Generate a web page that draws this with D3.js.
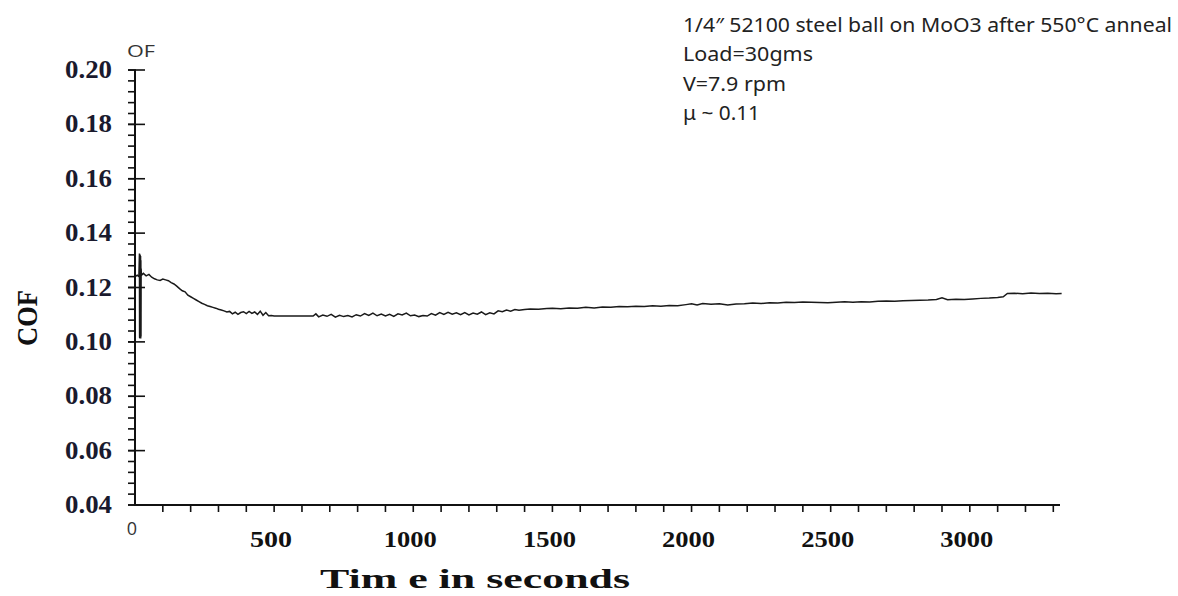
<!DOCTYPE html>
<html><head><meta charset="utf-8">
<script src="https://cdn.jsdelivr.net/npm/d3@7"></script>
<style>body{margin:0;background:#fff}svg{display:block}</style>
</head><body>
<script>
const timeSec = [0,8,14,16,16.5,17,17.5,18,18.5,19,19.5,20,20.5,21,21.5,22,23,30,40,50,60,70,80,90,100,110,120,130,140,150,160,170,180,190,200,210,220,230,240,250,260,270,280,290,300,310,320,330,340,350,360,370,380,390,400,410,420,430,440,450,460,470,480,490,500,560,620,640,650,660,675,690,705,720,735,750,765,780,795,810,825,840,855,870,885,900,915,930,945,960,975,990,1005,1020,1035,1050,1065,1080,1095,1110,1125,1140,1155,1170,1185,1200,1215,1230,1245,1260,1275,1290,1305,1320,1335,1350,1365,1380,1400,1420,1450,1480,1500,1530,1560,1590,1620,1650,1680,1710,1740,1770,1800,1830,1860,1890,1920,1950,1980,2000,2020,2040,2070,2100,2130,2160,2190,2220,2250,2280,2310,2340,2370,2400,2430,2460,2490,2520,2550,2580,2610,2640,2670,2700,2730,2760,2790,2820,2850,2880,2900,2920,2950,2980,3010,3040,3070,3100,3120,3135,3160,3190,3220,3250,3280,3310,3330];
const cofValues = [0.1240,0.1245,0.1240,0.1325,0.1015,0.1322,0.1013,0.1320,0.1012,0.1318,0.1014,0.1316,0.1012,0.1300,0.1020,0.1270,0.1245,0.1252,0.1243,0.1248,0.1238,0.1232,0.1228,0.1226,0.1231,0.1228,0.1225,0.1218,0.1213,0.1205,0.1196,0.1188,0.1184,0.1172,0.1166,0.1160,0.1154,0.1148,0.1142,0.1138,0.1133,0.1130,0.1127,0.1124,0.1120,0.1117,0.1114,0.1110,0.1112,0.1103,0.1109,0.1101,0.1108,0.1111,0.1104,0.1112,0.1105,0.1110,0.1101,0.1113,0.1098,0.1108,0.1096,0.1097,0.1095,0.1095,0.1095,0.1095,0.1103,0.1092,0.1099,0.1094,0.1101,0.1091,0.1098,0.1093,0.1097,0.1092,0.1100,0.1095,0.1104,0.1097,0.1106,0.1096,0.1102,0.1095,0.1101,0.1094,0.1103,0.1099,0.1106,0.1096,0.1099,0.1093,0.1097,0.1095,0.1104,0.1098,0.1108,0.1101,0.1109,0.1102,0.1107,0.1100,0.1108,0.1099,0.1106,0.1102,0.1110,0.1100,0.1107,0.1103,0.1114,0.1111,0.1117,0.1113,0.1119,0.1116,0.1119,0.1121,0.1120,0.1123,0.1124,0.1122,0.1125,0.1124,0.1127,0.1125,0.1128,0.1127,0.1130,0.1129,0.1131,0.1130,0.1133,0.1131,0.1134,0.1133,0.1137,0.1140,0.1136,0.1141,0.1138,0.1140,0.1136,0.1139,0.1140,0.1143,0.1141,0.1144,0.1143,0.1146,0.1145,0.1147,0.1146,0.1145,0.1144,0.1146,0.1148,0.1146,0.1148,0.1147,0.1149,0.1150,0.1149,0.1151,0.1152,0.1153,0.1154,0.1156,0.1162,0.1155,0.1157,0.1156,0.1158,0.1160,0.1161,0.1163,0.1166,0.1178,0.1179,0.1177,0.1180,0.1178,0.1179,0.1177,0.1178];
const xTickLabels = [500,1000,1500,2000,2500,3000];
const yTickLabels = ["0.04","0.06","0.08","0.10","0.12","0.14","0.16","0.18","0.20"];
const noteLines = ["1/4\u2033 52100 steel ball on MoO3  after 550\u00B0C anneal","Load=30gms","V=7.9 rpm","\u03BC ~ 0.11"];

const W = 1178, H = 596;
const svg = d3.select("body").append("svg").attr("width", W).attr("height", H);
const x = d3.scaleLinear().domain([0, 3300]).range([135, 1053.3]);
const y = d3.scaleLinear().domain([0.04, 0.20]).range([505, 70]);

// data line
const pts = timeSec.map((t,i)=>[t, cofValues[i]]);
svg.append("path").datum(pts)
  .attr("fill","none").attr("stroke","#1a1a1a").attr("stroke-width",1.5)
  .attr("d", d3.line().x(d=>x(d[0])).y(d=>y(d[1])));

// y axis
const ax = "#111";
svg.append("line").attr("x1",135).attr("x2",135).attr("y1",y(0.20)).attr("y2",505.5).attr("stroke",ax).attr("stroke-width",2);
const minorY = d3.range(0, 41).map(i => 0.04 + i*0.004);
svg.selectAll(".ymin").data(minorY).enter().append("line")
  .attr("x1",128).attr("x2",136).attr("y1",d=>y(d)).attr("y2",d=>y(d)).attr("stroke",ax).attr("stroke-width",1.6);
svg.selectAll(".ymaj").data(yTickLabels).enter().append("line")
  .attr("x1",128).attr("x2",145).attr("y1",d=>y(+d)).attr("y2",d=>y(+d)).attr("stroke",ax).attr("stroke-width",1.6);
svg.selectAll(".ylab").data(yTickLabels).enter().append("text")
  .attr("x",112).attr("y",d=>y(+d)+8).attr("text-anchor","end")
  .attr("font-family","'Liberation Serif','Times New Roman',serif").attr("font-weight","bold")
  .attr("font-size",25).attr("fill","#1a1a2e")
  .attr("textLength",47).attr("lengthAdjust","spacingAndGlyphs").text(d=>d);

// x axis
svg.append("line").attr("x1",134).attr("x2",1060).attr("y1",505).attr("y2",505).attr("stroke",ax).attr("stroke-width",2);
svg.selectAll(".xmin").data(d3.range(100, 3301, 100)).enter().append("line")
  .attr("x1",d=>x(d)).attr("x2",d=>x(d)).attr("y1",505).attr("y2",512).attr("stroke",ax).attr("stroke-width",1.6);
svg.selectAll(".xlab").data(xTickLabels).enter().append("text")
  .attr("x",d=>x(d)-3).attr("y",547).attr("text-anchor","middle")
  .attr("font-family","'Liberation Serif','Times New Roman',serif").attr("font-weight","bold")
  .attr("font-size",24).attr("fill","#111")
  .attr("textLength",d=>String(d).length===3?42:53).attr("lengthAdjust","spacingAndGlyphs").text(d=>d);
svg.append("text").attr("x",x(0)-3).attr("y",535).attr("text-anchor","middle")
  .attr("font-family","'Open Sans',sans-serif").attr("font-size",18).attr("fill","#333").text("0");
svg.append("text").attr("x",127).attr("y",57)
  .attr("font-family","'Open Sans',sans-serif").attr("font-size",17).attr("fill","#333")
  .attr("textLength",28).attr("lengthAdjust","spacingAndGlyphs").text("OF");

// axis titles
svg.append("text").attr("x",320).attr("y",588)
  .attr("font-family","'Liberation Serif','Times New Roman',serif").attr("font-weight","bold")
  .attr("font-size",27).attr("fill","#111")
  .attr("textLength",310).attr("lengthAdjust","spacingAndGlyphs").text("Tim e in seconds");
svg.append("text").attr("transform","translate(37,318) rotate(-90)").attr("text-anchor","middle")
  .attr("font-family","'Liberation Serif','Times New Roman',serif").attr("font-weight","bold")
  .attr("font-size",30).attr("fill","#111")
  .attr("textLength",56).attr("lengthAdjust","spacingAndGlyphs").text("COF");

// annotation
const noteLen = [489,130,103,77];
svg.selectAll(".note").data(noteLines).enter().append("text")
  .attr("x",683).attr("y",(d,i)=>31.5+i*29.5)
  .attr("font-family","'Noto Sans',sans-serif").attr("font-size",20).attr("fill","#222")
  .attr("textLength",(d,i)=>noteLen[i]).attr("lengthAdjust","spacingAndGlyphs").text(d=>d);
</script>
</body></html>
